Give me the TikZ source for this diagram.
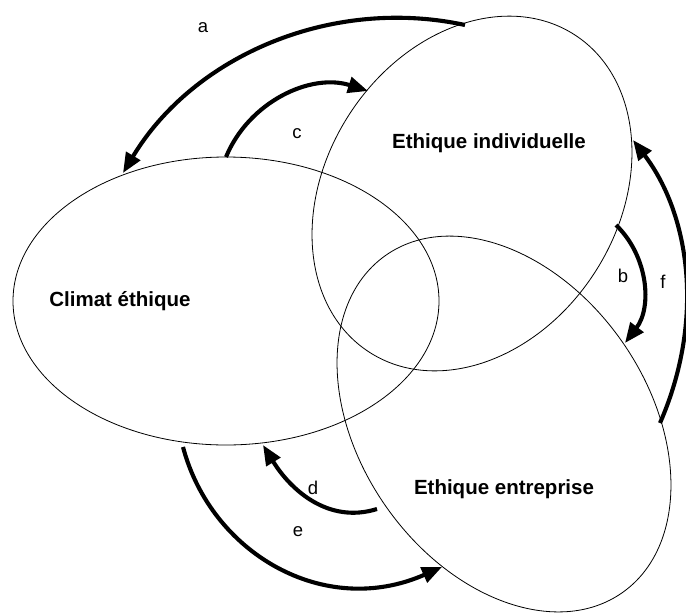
\documentclass[tikz,border=0pt]{standalone}
\usepackage{fontspec}
\setmainfont{Liberation Sans}
\usetikzlibrary{arrows.meta}
\begin{document}
\begin{tikzpicture}[x=1pt,y=-1pt,
  ell/.style={draw, line width=0.8pt},
  conn/.style={line width=4.1pt, -{Triangle[length=20pt,width=16pt]}},
  title/.style={font=\bfseries\fontsize{20.5}{24}\selectfont, inner sep=0pt},
  lab/.style={font=\fontsize{18.5}{22}\selectfont, inner sep=0pt}]
\useasboundingbox (0,0) rectangle (686,614);
% ellipses
\draw[ell] (226,301) ellipse [x radius=213, y radius=144];
\draw[ell, rotate around={57:(472,193.5)}] (472,193.5) ellipse [x radius=189, y radius=146];
\draw[ell, rotate around={-55:(504,424)}] (504,424) ellipse [x radius=206, y radius=144];
% titles
\node[title] (ci) at (120,301) {Climat éthique};
\node[title] (ei) at (489,143) {Ethique individuelle};
\node[title] (ee) at (504,489) {Ethique entreprise};
% labels
\node[lab] (la) at (203,28) {a};
\node[lab] (lc) at (297,134) {c};
\node[lab] (lb) at (623,276) {b};
\node[lab] (lf) at (663,282) {f};
\node[lab] (ld) at (313,488) {d};
\node[lab] (le) at (298,532) {e};
% connector end points
\coordinate (a0) at (465,25);  \coordinate (a1) at (123,173);
\coordinate (c0) at (226,157); \coordinate (c1) at (368,91);
\coordinate (b0) at (616,225); \coordinate (b1) at (625,343);
\coordinate (f0) at (660,423); \coordinate (f1) at (633,140);
\coordinate (d0) at (377,509); \coordinate (d1) at (263,445);
\coordinate (e0) at (183,447); \coordinate (e1) at (442,567);
% connectors
\draw[conn] (a0) .. controls (331.4,-3.8) and (193.5,55.8) .. (a1);
\draw[conn] (c0) .. controls (248.9,101.6) and (310.9,72.7) .. (c1);
\draw[conn] (b0) .. controls (648.4,256.4) and (652.2,307.1) .. (b1);
\draw[conn] (f0) .. controls (705,320) and (690,215) .. (f1);
\draw[conn] (d0) .. controls (327.7,524.4) and (290,489) .. (d1);
\draw[conn] (e0) .. controls (211,553) and (324,619) .. (e1);
\end{tikzpicture}
\end{document}
